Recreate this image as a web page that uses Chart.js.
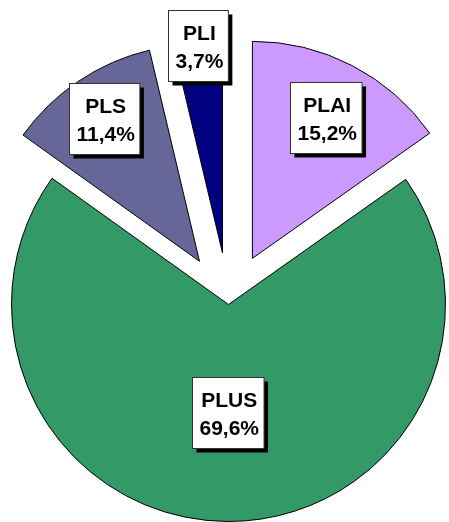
<!DOCTYPE html>
<html>
<head>
<meta charset="utf-8">
<script src="https://cdn.jsdelivr.net/npm/chart.js@4.4.0/dist/chart.umd.min.js"></script>
<style>
  html, body { margin: 0; padding: 0; background: #ffffff; }
  #wrap { width: 449px; height: 522px; position: relative; }
</style>
</head>
<body>
<div id="wrap"><canvas id="c" width="449" height="522"></canvas></div>
<script>
// ---- data ----
const categories = ['PLAI', 'PLUS', 'PLS', 'PLI'];
const values = [15.2, 69.6, 11.4, 3.7];
const colors = ['#CC99FF', '#339966', '#666699', '#000080'];
// distance each slice is pulled out of the pie (px)
const explode = [52, 0, 52, 52];
// label position along slice mid-angle, as fraction of radius
const labelRadius = [0.73, 0.50, 0.79, 0.96];

const fmt = v => v.toFixed(1).replace('.', ',') + '%';

const explodePlugin = {
  id: 'explode',
  beforeDatasetDraw(chart, args) {
    args.meta.data.forEach((arc, i) => {
      if (arc._patched) return;
      arc._patched = true;
      const orig = arc.draw;
      arc.draw = function (ctx, area) {
        const mid = (this.startAngle + this.endAngle) / 2;
        const d = explode[i];
        ctx.save();
        ctx.translate(Math.cos(mid) * d, Math.sin(mid) * d);
        orig.call(this, ctx, area);
        ctx.restore();
      };
    });
  }
};

const labelPlugin = {
  id: 'boxLabels',
  afterDatasetsDraw(chart) {
    const ctx = chart.ctx;
    const meta = chart.getDatasetMeta(0);
    ctx.save();
    ctx.font = 'bold 21px "Liberation Sans", Arial, sans-serif';
    meta.data.forEach((arc, i) => {
      const mid = (arc.startAngle + arc.endAngle) / 2;
      const d = explode[i];
      const ax = arc.x + Math.cos(mid) * d;
      const ay = arc.y + Math.sin(mid) * d;
      const px = ax + Math.cos(mid) * arc.outerRadius * labelRadius[i];
      const py = ay + Math.sin(mid) * arc.outerRadius * labelRadius[i];
      const l1 = categories[i];
      const l2 = fmt(values[i]);
      const w = Math.max(ctx.measureText(l1).width, ctx.measureText(l2).width) + 12;
      const h = 71;
      const bx = Math.round(px - w / 2) + 0.5;
      const by = Math.round(py - h / 2) + 0.5;
      // shadow
      ctx.fillStyle = '#000000';
      ctx.fillRect(bx + 4, by + 4, w, h);
      // box
      ctx.fillStyle = '#ffffff';
      ctx.fillRect(bx, by, w, h);
      ctx.strokeStyle = '#333333';
      ctx.lineWidth = 1;
      ctx.strokeRect(bx, by, w, h);
      // text
      ctx.fillStyle = '#000000';
      ctx.textAlign = 'center';
      ctx.textBaseline = 'alphabetic';
      const cy = by + h / 2;
      ctx.fillText(l1, bx + w / 2 + 1, cy - 6.5);
      ctx.fillText(l2, bx + w / 2 + 1, cy + 22.3);
    });
    ctx.restore();
  }
};

new Chart(document.getElementById('c'), {
  type: 'pie',
  data: {
    labels: categories,
    datasets: [{
      data: values,
      backgroundColor: colors,
      borderColor: '#000000',
      borderWidth: 1,
      hoverOffset: 0,
      offset: 0
    }]
  },
  options: {
    responsive: false,
    animation: false,
    events: [],
    layout: { padding: { left: 11, right: 3, top: 87, bottom: 0 } },
    plugins: {
      legend: { display: false },
      tooltip: { enabled: false }
    }
  },
  plugins: [explodePlugin, labelPlugin]
});
</script>
</body>
</html>
